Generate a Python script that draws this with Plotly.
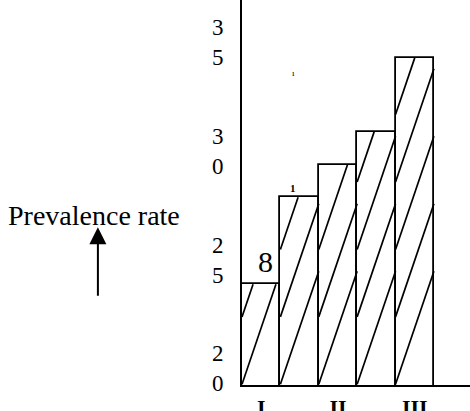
import plotly.graph_objects as go

# Data
positions = [0, 1, 2, 3, 4]
values = [24.6, 28.6, 30.1, 31.6, 35.0]
y_ticks = [20, 25, 30, 35]
y_ticktext = ["2<br>0", "2<br>5", "3<br>0", "3<br>5"]
x_ticks = [0, 2, 4]
x_ticktext = ["<b>I</b>", "<b>II</b>", "<b>III</b>"]

BASE = 20.0
SERIF = "Liberation Serif"

# hatch lines (steep diagonals from each bar's left edge) computed from the bar extents
RISE = 5.2     # data units of rise across one bar width
SPACING = 3.1  # vertical spacing between hatch lines
hx, hy = [], []
for p, v in zip(positions, values):
    xl, xr = p - 0.5, p + 0.5
    h = v - BASE
    k = 0
    while k * SPACING < h - 1.0:
        off = k * SPACING
        x_hi = min(xr, xl + (h - off) / RISE)
        hx += [xl, x_hi, None]
        hy += [BASE + off, BASE + off + RISE * (x_hi - xl), None]
        k += 1

fig = go.Figure()
fig.add_trace(go.Bar(
    x=positions, y=values, width=1.0,
    marker=dict(color="white", line=dict(color="black", width=1.8)),
    showlegend=False, hoverinfo="skip",
))
fig.add_trace(go.Scatter(
    x=hx, y=hy, mode="lines", line=dict(color="black", width=1.7),
    showlegend=False, hoverinfo="skip", cliponaxis=True,
))

fig.update_layout(
    width=470, height=411,
    margin=dict(l=242, r=0, t=0, b=26, autoexpand=False),
    paper_bgcolor="white", plot_bgcolor="white",
    bargap=0,
    font=dict(family=SERIF, color="black"),
    xaxis=dict(
        range=[-0.5, 5.44], showgrid=False, zeroline=False, automargin=False,
        showline=True, linecolor="black", linewidth=1.8,
        tickvals=x_ticks, ticktext=x_ticktext, ticks="",
        tickfont=dict(family=SERIF, size=22, color="black"),
        ticklabelstandoff=2,
    ),
    yaxis=dict(
        range=[19.97, 37.66], showgrid=False, zeroline=False, automargin=False,
        showline=True, linecolor="black", linewidth=1.8,
        tickvals=y_ticks, ticktext=y_ticktext, ticks="",
        tickfont=dict(family=SERIF, size=23, color="black"),
        ticklabelshift=-16, ticklabelstandoff=12,
    ),
    annotations=[
        dict(text="Prevalence rate", xref="paper", yref="paper",
             x=-0.651, y=0.439, xanchor="center", yanchor="middle",
             showarrow=False, font=dict(family=SERIF, size=28, color="black")),
        dict(text="", xref="paper", yref="paper", x=-0.632, y=0.41,
             ax=0, ay=70, showarrow=True, arrowhead=2, arrowsize=1.7,
             arrowwidth=2, arrowcolor="black"),
        dict(text="8", xref="x", yref="y", x=0.1, y=25.64, showarrow=False,
             font=dict(family=SERIF, size=30, color="black")),
        dict(text="<b>1</b>", xref="x", yref="y", x=0.83, y=29.0, showarrow=False,
             font=dict(family=SERIF, size=11, color="black")),
        dict(text="ı", xref="x", yref="y", x=0.83, y=34.3, showarrow=False,
             font=dict(family=SERIF, size=9, color="black")),
    ],
)

fig.write_html("out.html", config={"displayModeBar": False},
               post_script="document.body.style.margin='0';")
